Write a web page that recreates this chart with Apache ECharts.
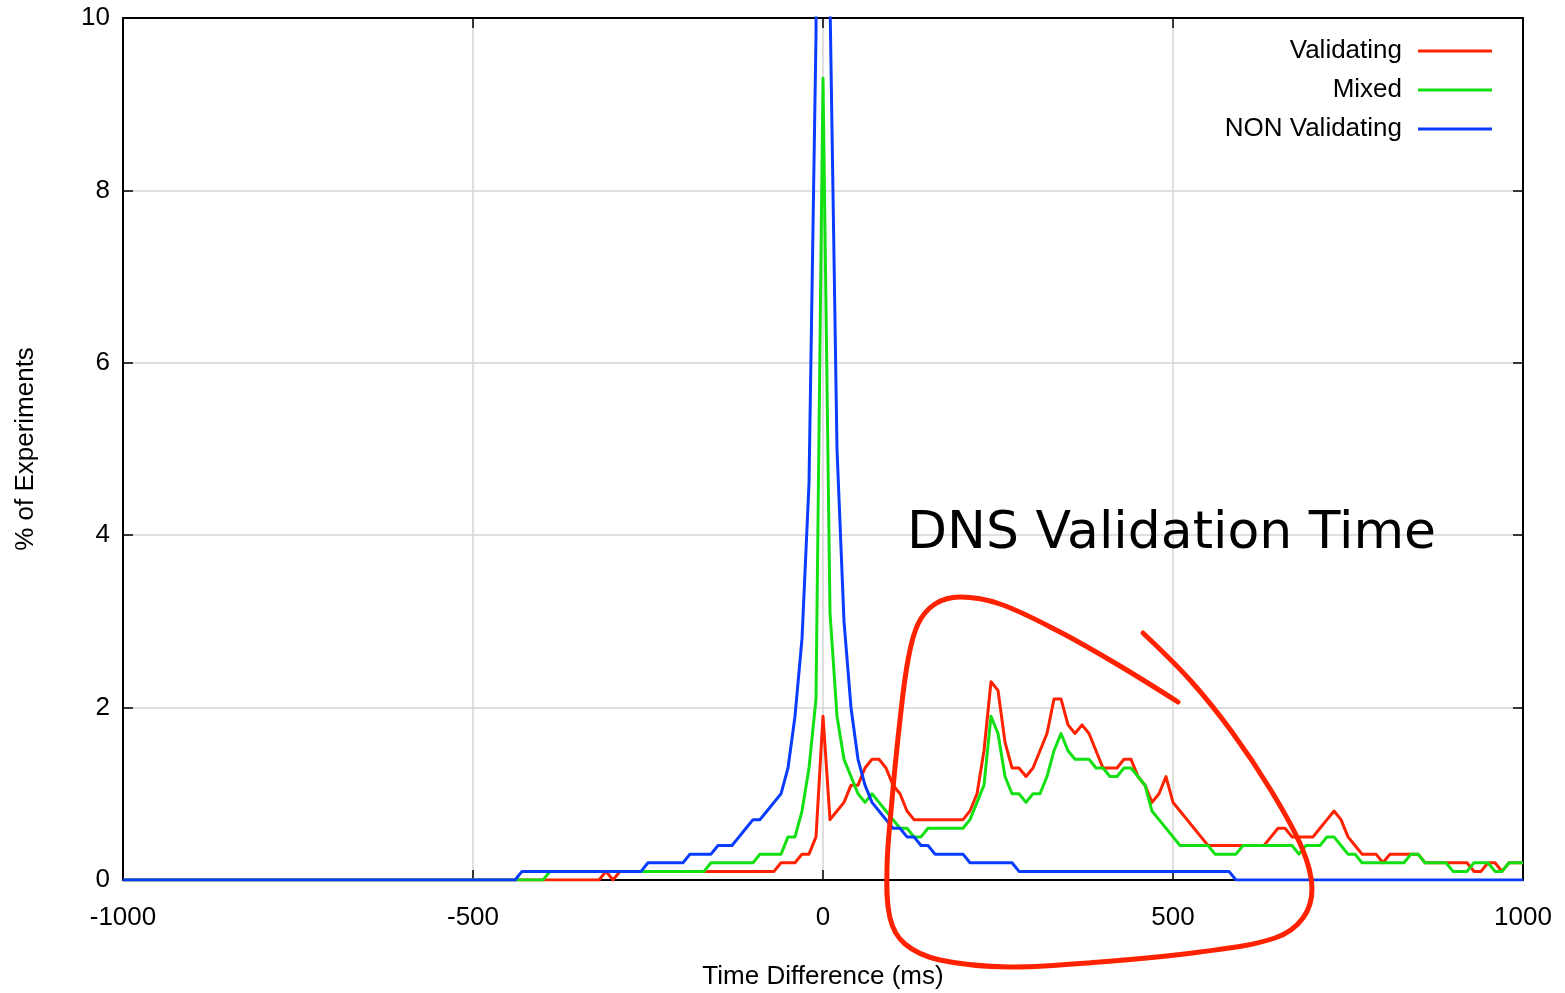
<!DOCTYPE html>
<html>
<head>
<meta charset="utf-8">
<script src="https://cdn.jsdelivr.net/npm/echarts@6/dist/echarts.min.js"></script>
<style>
html,body{margin:0;padding:0;background:#fff;}
#chart{width:1565px;height:993px;}
</style>
</head>
<body>
<div id="chart"></div>
<script>
// Time difference samples (ms)
const timeDiff = [
-1000,-990,-980,-970,-960,-950,-940,-930,-920,-910,
-900,-890,-880,-870,-860,-850,-840,-830,-820,-810,
-800,-790,-780,-770,-760,-750,-740,-730,-720,-710,
-700,-690,-680,-670,-660,-650,-640,-630,-620,-610,
-600,-590,-580,-570,-560,-550,-540,-530,-520,-510,
-500,-490,-480,-470,-460,-450,-440,-430,-420,-410,
-400,-390,-380,-370,-360,-350,-340,-330,-320,-310,
-300,-290,-280,-270,-260,-250,-240,-230,-220,-210,
-200,-190,-180,-170,-160,-150,-140,-130,-120,-110,
-100,-90,-80,-70,-60,-50,-40,-30,-20,-10,
0,10,20,30,40,50,60,70,80,90,
100,110,120,130,140,150,160,170,180,190,
200,210,220,230,240,250,260,270,280,290,
300,310,320,330,340,350,360,370,380,390,
400,410,420,430,440,450,460,470,480,490,
500,510,520,530,540,550,560,570,580,590,
600,610,620,630,640,650,660,670,680,690,
700,710,720,730,740,750,760,770,780,790,
800,810,820,830,840,850,860,870,880,890,
900,910,920,930,940,950,960,970,980,990,
1000
];

// % of experiments – Validating
const validating = [
0,0,0,0,0,0,0,0,0,0,
0,0,0,0,0,0,0,0,0,0,
0,0,0,0,0,0,0,0,0,0,
0,0,0,0,0,0,0,0,0,0,
0,0,0,0,0,0,0,0,0,0,
0,0,0,0,0,0,0,0,0,0,
0,0,0,0,0,0,0,0,0,0.1,
0,0.1,0.1,0.1,0.1,0.1,0.1,0.1,0.1,0.1,
0.1,0.1,0.1,0.1,0.1,0.1,0.1,0.1,0.1,0.1,
0.1,0.1,0.1,0.1,0.2,0.2,0.2,0.3,0.3,0.5,
1.9,0.7,0.8,0.9,1.1,1.1,1.3,1.4,1.4,1.3,
1.1,1.0,0.8,0.7,0.7,0.7,0.7,0.7,0.7,0.7,
0.7,0.8,1.0,1.5,2.3,2.2,1.6,1.3,1.3,1.2,
1.3,1.5,1.7,2.1,2.1,1.8,1.7,1.8,1.7,1.5,
1.3,1.3,1.3,1.4,1.4,1.2,1.1,0.9,1.0,1.2,
0.9,0.8,0.7,0.6,0.5,0.4,0.4,0.4,0.4,0.4,
0.4,0.4,0.4,0.4,0.5,0.6,0.6,0.5,0.5,0.5,
0.5,0.6,0.7,0.8,0.7,0.5,0.4,0.3,0.3,0.3,
0.2,0.3,0.3,0.3,0.3,0.3,0.2,0.2,0.2,0.2,
0.2,0.2,0.2,0.1,0.1,0.2,0.2,0.1,0.2,0.2,
0.2
];

// % of experiments – Mixed
const mixed = [
0,0,0,0,0,0,0,0,0,0,
0,0,0,0,0,0,0,0,0,0,
0,0,0,0,0,0,0,0,0,0,
0,0,0,0,0,0,0,0,0,0,
0,0,0,0,0,0,0,0,0,0,
0,0,0,0,0,0,0,0,0,0,
0,0.1,0.1,0.1,0.1,0.1,0.1,0.1,0.1,0.1,
0.1,0.1,0.1,0.1,0.1,0.1,0.1,0.1,0.1,0.1,
0.1,0.1,0.1,0.1,0.2,0.2,0.2,0.2,0.2,0.2,
0.2,0.3,0.3,0.3,0.3,0.5,0.5,0.8,1.3,2.1,
9.3,3.1,1.9,1.4,1.2,1.0,0.9,1.0,0.9,0.8,
0.7,0.6,0.6,0.5,0.5,0.6,0.6,0.6,0.6,0.6,
0.6,0.7,0.9,1.1,1.9,1.7,1.2,1.0,1.0,0.9,
1.0,1.0,1.2,1.5,1.7,1.5,1.4,1.4,1.4,1.3,
1.3,1.2,1.2,1.3,1.3,1.2,1.1,0.8,0.7,0.6,
0.5,0.4,0.4,0.4,0.4,0.4,0.3,0.3,0.3,0.3,
0.4,0.4,0.4,0.4,0.4,0.4,0.4,0.4,0.3,0.4,
0.4,0.4,0.5,0.5,0.4,0.3,0.3,0.2,0.2,0.2,
0.2,0.2,0.2,0.2,0.3,0.3,0.2,0.2,0.2,0.2,
0.1,0.1,0.1,0.2,0.2,0.2,0.1,0.1,0.2,0.2,
0.2
];

// % of experiments – NON Validating (peak at 0 runs off the top of the chart)
const nonValidating = [
0,0,0,0,0,0,0,0,0,0,
0,0,0,0,0,0,0,0,0,0,
0,0,0,0,0,0,0,0,0,0,
0,0,0,0,0,0,0,0,0,0,
0,0,0,0,0,0,0,0,0,0,
0,0,0,0,0,0,0,0.1,0.1,0.1,
0.1,0.1,0.1,0.1,0.1,0.1,0.1,0.1,0.1,0.1,
0.1,0.1,0.1,0.1,0.1,0.2,0.2,0.2,0.2,0.2,
0.2,0.3,0.3,0.3,0.3,0.4,0.4,0.4,0.5,0.6,
0.7,0.7,0.8,0.9,1.0,1.3,1.9,2.8,4.6,9.8,
30,10.2,5.0,3.0,2.0,1.4,1.1,0.9,0.8,0.7,
0.6,0.6,0.5,0.5,0.4,0.4,0.3,0.3,0.3,0.3,
0.3,0.2,0.2,0.2,0.2,0.2,0.2,0.2,0.1,0.1,
0.1,0.1,0.1,0.1,0.1,0.1,0.1,0.1,0.1,0.1,
0.1,0.1,0.1,0.1,0.1,0.1,0.1,0.1,0.1,0.1,
0.1,0.1,0.1,0.1,0.1,0.1,0.1,0.1,0.1,0,
0,0,0,0,0,0,0,0,0,0,
0,0,0,0,0,0,0,0,0,0,
0,0,0,0,0,0,0,0,0,0,
0,0,0,0,0,0,0,0,0,0,
0
];

const seriesNames = ['Validating', 'Mixed', 'NON Validating'];
const seriesColors = ['#ff2200', '#12e012', '#0a3cff'];
const xTicks = [-1000, -500, 0, 500, 1000];
const yTicks = [0, 2, 4, 6, 8, 10];
const xTitle = 'Time Difference (ms)';
const yTitle = '% of Experiments';
const annotationText = 'DNS Validation Time';

const FONT = '"Liberation Sans", Arial, Helvetica, sans-serif';
const FS = 26;
const pair = ys => timeDiff.map((x, i) => [x, ys[i]]);

const chart = echarts.init(document.getElementById('chart'), null, {renderer: 'canvas'});

const axisCommon = {
  type: 'value',
  axisLine: {show: true, onZero: false, lineStyle: {color: '#000', width: 2}},
  axisTick: {show: true, inside: true, length: 10, lineStyle: {color: '#000', width: 1.5}},
};

chart.setOption({
  animation: false,
  backgroundColor: '#fff',
  grid: {left: 123, right: 42, top: 18, bottom: 113, containLabel: false, outerBoundsMode: 'none'},
  legend: {
    data: seriesNames,
    orient: 'vertical',
    align: 'right',
    right: 68,
    top: 32,
    itemWidth: 74,
    itemHeight: 3,
    itemGap: 11,
    icon: 'rect',
    textStyle: {fontFamily: FONT, fontSize: FS, color: '#000', lineHeight: 28, padding: [0, 11, 0, 0]}
  },
  xAxis: [
    Object.assign({}, axisCommon, {
      position: 'bottom',
      min: xTicks[0], max: xTicks[xTicks.length - 1], interval: 500,
      axisLabel: {fontFamily: FONT, fontSize: FS, color: '#000', margin: 25, formatter: v => String(v)},
      splitLine: {show: true, lineStyle: {color: '#d4d4d4', width: 1.5}},
      name: xTitle, nameLocation: 'middle', nameGap: 84,
      nameTextStyle: {fontFamily: FONT, fontSize: FS, color: '#000'}
    }),
    Object.assign({}, axisCommon, {
      position: 'top',
      min: xTicks[0], max: xTicks[xTicks.length - 1], interval: 500,
      axisLabel: {show: false}, splitLine: {show: false}
    })
  ],
  yAxis: [
    Object.assign({}, axisCommon, {
      position: 'left',
      min: yTicks[0], max: yTicks[yTicks.length - 1], interval: 2,
      axisLabel: {fontFamily: FONT, fontSize: FS, color: '#000', margin: 13},
      splitLine: {show: true, lineStyle: {color: '#d4d4d4', width: 1.5}},
      name: yTitle, nameLocation: 'middle', nameGap: 84, nameRotate: 90,
      nameTextStyle: {fontFamily: FONT, fontSize: FS, color: '#000'}
    }),
    Object.assign({}, axisCommon, {
      position: 'right',
      min: yTicks[0], max: yTicks[yTicks.length - 1], interval: 2,
      axisLabel: {show: false}, splitLine: {show: false}
    })
  ],
  series: [validating, mixed, nonValidating].map((ys, k) => ({
    name: seriesNames[k],
    type: 'line',
    xAxisIndex: 0,
    yAxisIndex: 0,
    data: pair(ys),
    showSymbol: false,
    symbol: 'none',
    clip: true,
    lineStyle: {color: seriesColors[k], width: 3, join: 'round'},
    itemStyle: {color: seriesColors[k]},
    z: 3 + k
  })),
  graphic: [
    {
      type: 'text',
      left: 907,
      top: 508,
      z: 100,
      style: {
        text: annotationText,
        font: '52px "DejaVu Sans", sans-serif',
        fill: '#000'
      }
    },
    {
      type: 'polyline',
      z: 100,
      shape: {
        points: [
          [1178, 702], [1120, 666], [1060, 632], [1000, 604], [960, 597], [935, 604],
          [918, 624], [908, 660], [900, 720], [892, 800], [887, 868], [890, 918],
          [905, 944], [940, 960], [1010, 967], [1100, 962], [1200, 952], [1275, 938],
          [1303, 918], [1312, 888], [1302, 848], [1272, 792], [1232, 732], [1190, 680],
          [1143, 633]
        ],
        smooth: 0.35
      },
      style: {stroke: '#ff2200', lineWidth: 5, fill: null, lineCap: 'round', lineJoin: 'round'}
    }
  ]
});
</script>
</body>
</html>
